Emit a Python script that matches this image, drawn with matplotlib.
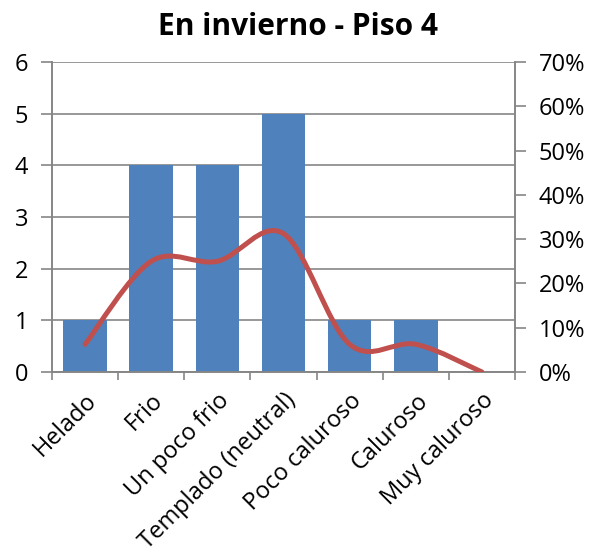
import matplotlib.pyplot as plt
from matplotlib.path import Path
from matplotlib.patches import PathPatch
from matplotlib.ticker import FuncFormatter
import numpy as np

plt.rcParams['font.family'] = ['Open Sans', 'DejaVu Sans']

categories = ["Helado", "Frio", "Un poco frio", "Templado (neutral)",
              "Poco caluroso", "Caluroso", "Muy caluroso"]
counts = [1, 4, 4, 5, 1, 1, 0]
percent = [0.0625, 0.25, 0.25, 0.3125, 0.0625, 0.0625, 0.0]

bar_color = "#4F81BD"
line_color = "#C0504D"
grid_color = "#868686"

fig = plt.figure(figsize=(5.96, 5.55), dpi=100)
ax1 = fig.add_axes([52 / 596, (555 - 372) / 555, (515 - 52) / 596, (372 - 62) / 555])
ax2 = ax1.twinx()

x = np.arange(len(categories))
ax1.bar(x, counts, width=0.66, color=bar_color, zorder=2)
ax1.set_xlim(-0.5, len(categories) - 0.5)
ax1.set_ylim(0, 6)
ax1.set_yticks(range(0, 7))
ax1.yaxis.grid(True, color=grid_color, linewidth=1.2, zorder=0)
ax1.set_axisbelow(True)

# smoothed line (excel-style), bezier segments through the points
px = list(x.astype(float))
py = list(percent)
verts = [(px[0], py[0])]
codes = [Path.MOVETO]
n = len(px)
for i in range(n - 1):
    p0 = (px[max(i - 1, 0)], py[max(i - 1, 0)])
    p1 = (px[i], py[i])
    p2 = (px[i + 1], py[i + 1])
    p3 = (px[min(i + 2, n - 1)], py[min(i + 2, n - 1)])
    c1 = (p1[0] + (p2[0] - p0[0]) / 6, p1[1] + (p2[1] - p0[1]) / 6)
    c2 = (p2[0] - (p3[0] - p1[0]) / 6, p2[1] - (p3[1] - p1[1]) / 6)
    verts += [c1, c2, p2]
    codes += [Path.CURVE4] * 3
ax2.add_patch(PathPatch(Path(verts, codes), facecolor="none", edgecolor=line_color,
                        linewidth=3.6, capstyle="round", zorder=3))
ax2.set_ylim(0, 0.7)
ax2.set_yticks(np.arange(0, 0.71, 0.1))
ax2.yaxis.set_major_formatter(FuncFormatter(lambda v, p: f"{v * 100:.0f}%"))

for a in (ax1, ax2):
    for s in a.spines.values():
        s.set_color(grid_color)
        s.set_linewidth(1.2)
    a.spines["top"].set_visible(False)
    a.tick_params(colors=grid_color, labelcolor="black", length=8, width=1.2,
                  labelsize=17, pad=9)

ax1.set_xticks(np.arange(-0.5, len(categories), 1.0), minor=False)
ax1.set_xticklabels([])
ax1.set_xticks(x, minor=True)
ax1.set_xticklabels(categories, minor=True, rotation=45, ha="right",
                    rotation_mode="anchor", fontsize=17)
ax1.tick_params(axis="x", which="minor", length=0, pad=12)
ax1.tick_params(axis="x", which="major", length=6)

fig.suptitle("En invierno - Piso 4", fontsize=21.5, fontweight="bold", y=0.978)

fig.savefig("out.png", dpi=100)
